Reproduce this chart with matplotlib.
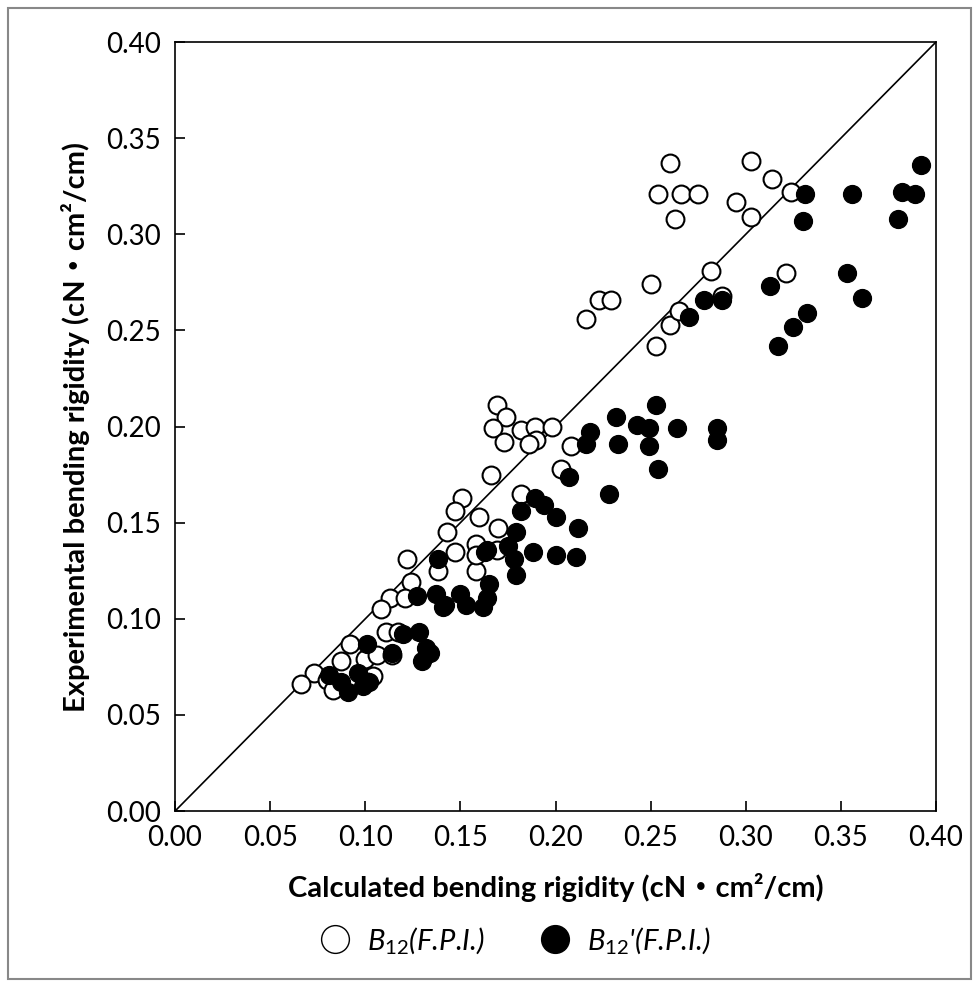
import matplotlib
matplotlib.use('Agg')
import matplotlib.pyplot as plt
from matplotlib.lines import Line2D
from matplotlib.patches import Rectangle

plt.rcParams['font.family'] = ['Lato', 'Noto Sans CJK JP', 'DejaVu Sans']
plt.rcParams['mathtext.fontset'] = 'custom'
plt.rcParams['mathtext.it'] = 'Lato:italic'
plt.rcParams['mathtext.rm'] = 'Lato'

# B12 (F.P.I.) -- open circles
b12_x = [0.260, 0.303, 0.254, 0.266, 0.275, 0.314, 0.295, 0.263, 0.303, 0.324,
         0.282, 0.216, 0.223, 0.229, 0.250, 0.321, 0.260, 0.253, 0.265, 0.2875,
         0.169, 0.174, 0.167, 0.173, 0.182, 0.189, 0.198, 0.190, 0.186, 0.208,
         0.203, 0.166, 0.182, 0.160, 0.170,
         0.151, 0.147, 0.143, 0.147, 0.158, 0.158, 0.138, 0.122, 0.124, 0.113,
         0.108, 0.121, 0.169, 0.158,
         0.111, 0.117, 0.092, 0.087, 0.073, 0.066, 0.080, 0.083, 0.104, 0.100,
         0.106, 0.114, 0.101]
b12_y = [0.337, 0.338, 0.321, 0.321, 0.321, 0.329, 0.317, 0.308, 0.309, 0.322,
         0.281, 0.256, 0.266, 0.266, 0.274, 0.280, 0.253, 0.242, 0.260, 0.268,
         0.211, 0.205, 0.199, 0.192, 0.198, 0.200, 0.200, 0.193, 0.191, 0.190,
         0.178, 0.175, 0.165, 0.153, 0.147,
         0.163, 0.156, 0.145, 0.135, 0.139, 0.125, 0.125, 0.131, 0.119, 0.111,
         0.105, 0.111, 0.136, 0.133,
         0.093, 0.093, 0.087, 0.078, 0.072, 0.066, 0.068, 0.063, 0.070, 0.079,
         0.081, 0.081, 0.067]

# B12' (F.P.I.) -- filled circles
b12p_x = [0.392, 0.331, 0.356, 0.382, 0.389, 0.330, 0.380, 0.353, 0.313, 0.361,
          0.332, 0.325, 0.317, 0.278, 0.2875, 0.270,
          0.218, 0.216, 0.232, 0.233, 0.207, 0.228, 0.189, 0.182, 0.194, 0.200,
          0.212, 0.200, 0.211, 0.179, 0.175, 0.188, 0.164,
          0.253, 0.243, 0.249, 0.264, 0.285, 0.285, 0.249, 0.254,
          0.138, 0.127, 0.137, 0.142, 0.150, 0.153, 0.163, 0.165, 0.162, 0.164,
          0.178, 0.179,
          0.101, 0.114, 0.120, 0.128, 0.132, 0.134, 0.130, 0.081, 0.087, 0.096,
          0.099, 0.091, 0.102, 0.141]
b12p_y = [0.336, 0.321, 0.321, 0.322, 0.321, 0.307, 0.308, 0.280, 0.273, 0.267,
          0.259, 0.252, 0.242, 0.266, 0.266, 0.257,
          0.197, 0.191, 0.205, 0.191, 0.174, 0.165, 0.163, 0.156, 0.159, 0.153,
          0.147, 0.133, 0.132, 0.145, 0.138, 0.135, 0.136,
          0.211, 0.201, 0.199, 0.199, 0.199, 0.193, 0.190, 0.178,
          0.131, 0.112, 0.113, 0.107, 0.113, 0.107, 0.135, 0.118, 0.106, 0.111,
          0.131, 0.123,
          0.087, 0.082, 0.092, 0.093, 0.085, 0.082, 0.078, 0.071, 0.067, 0.072,
          0.065, 0.062, 0.067, 0.106]

ticks = [0.00, 0.05, 0.10, 0.15, 0.20, 0.25, 0.30, 0.35, 0.40]

fig = plt.figure(figsize=(9.78, 9.85), dpi=100)
ax = fig.add_axes([0.179, 0.1766, 0.778, 0.7807])

ax.plot([0, 0.4], [0, 0.4], color='black', lw=1.2, zorder=1)
ax.scatter(b12_x, b12_y, s=165, facecolors='white', edgecolors='black',
           linewidths=1.5, zorder=2)
ax.scatter(b12p_x, b12p_y, s=165, facecolors='black', edgecolors='black',
           linewidths=1.0, zorder=3)

ax.set_xlim(0, 0.4)
ax.set_ylim(0, 0.4)
ax.set_xticks(ticks)
ax.set_yticks(ticks)
ax.set_xticklabels(['%.2f' % t for t in ticks])
ax.set_yticklabels(['%.2f' % t for t in ticks])
ax.tick_params(direction='in', length=7, width=1.2, labelsize=20, pad=10)
for sp in ax.spines.values():
    sp.set_linewidth(1.2)

ax.set_xlabel('Calculated bending rigidity (cN・cm²/cm)', fontsize=21,
              fontweight='bold', labelpad=16)
ax.set_ylabel('Experimental bending rigidity (cN・cm²/cm)', fontsize=21,
              fontweight='bold', labelpad=12)

handles = [Line2D([], [], ls='', marker='o', ms=20, mfc='white', mec='black', mew=1.0),
           Line2D([], [], ls='', marker='o', ms=20, mfc='black', mec='black')]
labels = [r'$B_{12}$(F.P.I.)', r"$B_{12}$'(F.P.I.)"]
fig.legend(handles, labels, loc='center', bbox_to_anchor=(0.52, 0.045), ncol=2,
           frameon=False, prop={'size': 21, 'style': 'italic'},
           handletextpad=0.1, columnspacing=1.4)

fig.patches.append(Rectangle((0.008, 0.006), 0.985, 0.986, transform=fig.transFigure,
                             fill=False, edgecolor='#888888', lw=1.5))

fig.savefig('out.png', dpi=100)
